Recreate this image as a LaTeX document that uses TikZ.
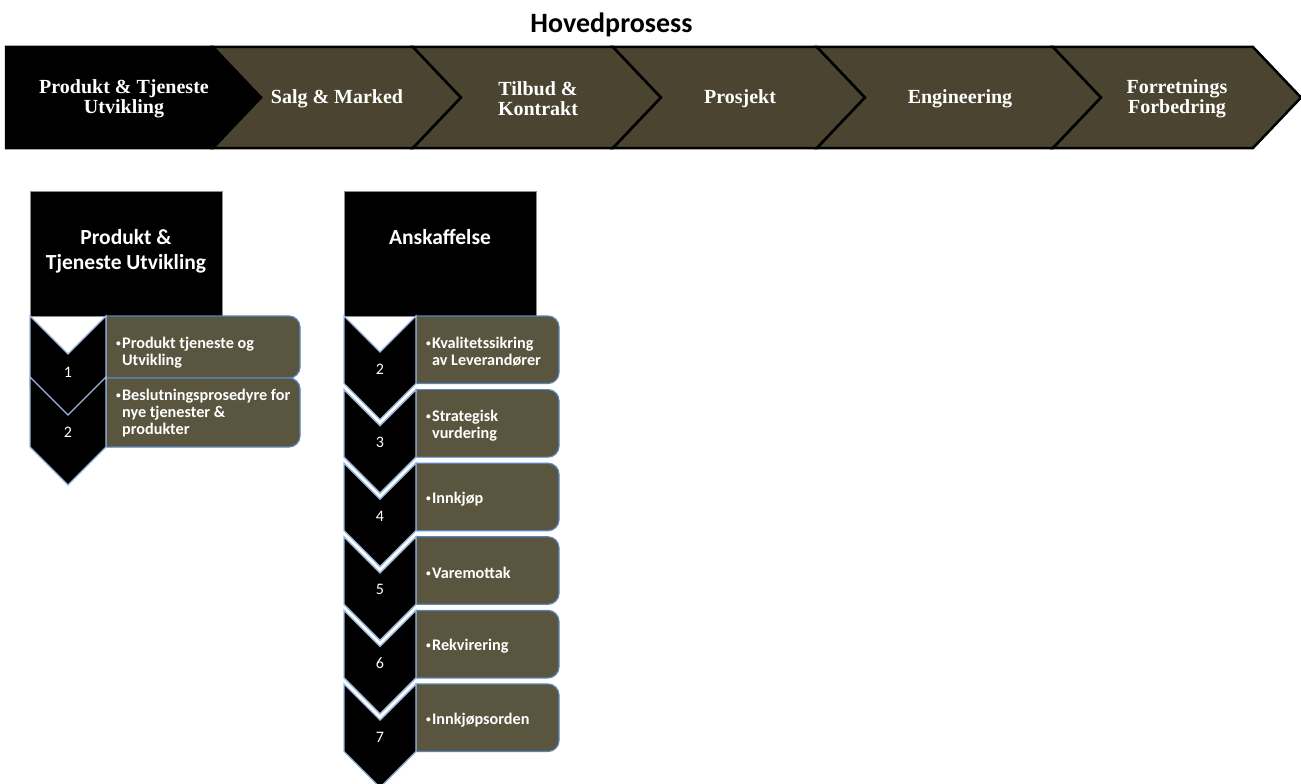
\documentclass[tikz,border=0pt]{standalone}
\usepackage{fontspec}
\setmainfont{Liberation Serif}
\newfontfamily\calfont{Carlito}
\definecolor{barolive}{HTML}{4A4430}
\definecolor{boxolive}{HTML}{5A553E}
\definecolor{boxedge}{HTML}{5B84BA}
\definecolor{chevedge}{HTML}{9CB8DA}

% small list bullet and the matching hanging indent
\newcommand\itembullet{\raisebox{2.2pt}{\fontsize{9.5}{9.5}\selectfont\textbullet}\hspace{1.2pt}}
\newcommand\bulletgap{\hphantom{\itembullet}}

% item box: square left corners, rounded right corners
\newcommand\rbox[5]{%
  \filldraw[itembox] (#2,#3) coordinate (#1) -- ({#4-11},#3)
    .. controls ({#4-5},#3) and (#4,{#3+5}) .. (#4,{#3+11})
    -- (#4,{#5-11})
    .. controls (#4,{#5-5}) and ({#4-5},#5) .. ({#4-11},#5)
    -- (#2,#5) -- cycle;}
% downward chevron: left x, top y, side length, half width
\newcommand\chev[5]{%
  \filldraw[chevron] (#2,#3) coordinate (#1) -- ({#2+#5},{#3+#5}) -- ({#2+2*#5},#3)
    -- ({#2+2*#5},{#3+#4}) -- ({#2+#5},{#3+#4+#5}) -- (#2,{#3+#4}) -- cycle;}

\begin{document}
\begin{tikzpicture}[x=1pt,y=-1pt,
  segblack/.style={fill=black,draw=black,line width=2.5pt,line join=miter},
  segolive/.style={fill=barolive,draw=black,line width=2.5pt,line join=miter},
  seglabel/.style={text=white,font=\fontsize{20}{20}\selectfont\bfseries,align=center,inner sep=0pt},
  titlelabel/.style={font=\calfont\bfseries\fontsize{28}{30}\selectfont,inner sep=0pt,anchor=base},
  headbox/.style={fill=black,draw=black!45,line width=0.6pt,minimum width=192pt,minimum height=125pt,anchor=north west,inner sep=0pt},
  headlabel/.style={text=white,font=\calfont\bfseries\fontsize{21.5}{25}\selectfont,align=center,inner sep=0pt,anchor=north},
  chevron/.style={fill=black,draw=chevedge,line width=1.4pt,line join=miter},
  itembox/.style={fill=boxolive,draw=boxedge,line width=1.2pt},
  itemlabel/.style={text=white,font=\calfont\bfseries\fontsize{16.2}{17}\selectfont,align=left,anchor=west,inner sep=0pt},
  numlabel/.style={text=white,font=\calfont\fontsize{16}{18}\selectfont,inner sep=0pt}]
\useasboundingbox (0,0) rectangle (1301,784);

% ---- title ----
\node[titlelabel] (title) at (611.5,33) {Hovedprosess};

% ---- main process bar ----
\filldraw[segblack] (6,47) -- (213,47) -- (261,97.5) -- (213,148) -- (6,148) -- cycle;
\foreach \l/\r in {213/413,413/613,613/817,817/1053,1053/1253}{
  \filldraw[segolive] (\l,47) -- (\r,47) -- ({\r+48},97.5) -- (\r,148) -- (\l,148) -- ({\l+48},97.5) -- cycle;
}
\node[seglabel] (s1) at (124,98.5) {Produkt \& Tjeneste\\Utvikling};
\node[seglabel] (s2) at (337,99) {Salg \& Marked};
\node[seglabel] (s3) at (538,98.5) {Tilbud \&\\Kontrakt};
\node[seglabel] (s4) at (740,99) {Prosjekt};
\node[seglabel] (s5) at (960,99) {Engineering};
\node[seglabel] (s6) at (1177,98.5) {Forretnings\\Forbedring};

% ---- sub-process: Produkt & Tjeneste Utvikling ----
\node[headbox] (hA) at (30,191) {};
\node[headlabel] (hAtext) at (126,229.5) {Produkt \&\\Tjeneste Utvikling};
\rbox{bA1}{106}{316}{300}{378}
\rbox{bA2}{106}{378}{300}{447}
\chev{cA1}{30}{316}{70}{38}
\chev{cA2}{30}{377}{70}{38}
\node[numlabel] (nA1) at (68,372) {1};
\node[numlabel] (nA2) at (68,432) {2};
\node[itemlabel] (tA1) at (116,353) {\itembullet Produkt tjeneste og\\\bulletgap Utvikling};
\node[itemlabel] (tA2) at (116,413) {\itembullet Beslutningsprosedyre for\\\bulletgap nye tjenester \&\\\bulletgap produkter};

% ---- sub-process: Anskaffelse ----
\node[headbox] (hB) at (344,191) {};
\node[headlabel] (hBtext) at (440,229.5) {Anskaffelse};
\foreach \k/\t in {1/316,2/389.6,3/463.2,4/536.8,5/610.4,6/684}{
  \rbox{bB\k}{416}{\t}{559}{\t+67.5}
}
\foreach \k/\t in {1/316,2/389.6,3/463.2,4/536.8,5/610.4,6/684}{
  \chev{cB\k}{344}{\t}{67.5}{36}
}
\foreach \k/\t/\n in {1/316/2,2/389.6/3,3/463.2/4,4/536.8/5,5/610.4/6,6/684/7}{
  \node[numlabel] (nB\k) at (380,{\t+53}) {\n};
}
\node[itemlabel] (tB1) at (426,352) {\itembullet Kvalitetssikring\\\bulletgap av Leverandører};
\node[itemlabel] (tB2) at (426,425.5) {\itembullet Strategisk\\\bulletgap vurdering};
\node[itemlabel] (tB3) at (426,499.5) {\itembullet Innkjøp};
\node[itemlabel] (tB4) at (426,573) {\itembullet Varemottak};
\node[itemlabel] (tB5) at (426,646.5) {\itembullet Rekvirering};
\node[itemlabel] (tB6) at (426,720) {\itembullet Innkjøpsorden};
\end{tikzpicture}
\end{document}
